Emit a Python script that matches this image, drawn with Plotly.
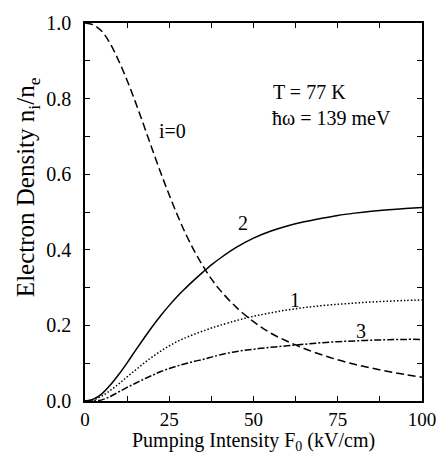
import plotly.graph_objects as go

# Pumping intensity F0 (kV/cm)
F0 = [0, 2.5, 5, 7.5, 10, 12.5, 15, 17.5, 20, 22.5, 25, 27.5, 30, 32.5, 35, 37.5, 40,
      45, 50, 55, 60, 65, 70, 75, 80, 85, 90, 95, 100]

# Electron densities n_i/n_e
n0 = [1.0, 0.995, 0.978, 0.945, 0.90, 0.848, 0.79, 0.728, 0.665, 0.603, 0.545, 0.49,
      0.44, 0.396, 0.357, 0.323, 0.294, 0.247, 0.21, 0.18, 0.158, 0.139, 0.123, 0.109,
      0.097, 0.087, 0.078, 0.07, 0.063]
n1 = [0.0, 0.003, 0.013, 0.028, 0.045, 0.064, 0.082, 0.10, 0.117, 0.132, 0.146, 0.158,
      0.168, 0.177, 0.185, 0.193, 0.20, 0.213, 0.224, 0.233, 0.241, 0.247, 0.252,
      0.256, 0.259, 0.262, 0.264, 0.266, 0.267]
n2 = [0.0, 0.005, 0.019, 0.042, 0.07, 0.101, 0.134, 0.166, 0.197, 0.226, 0.253, 0.278,
      0.30, 0.321, 0.341, 0.36, 0.377, 0.407, 0.431, 0.449, 0.463, 0.474, 0.483, 0.491,
      0.497, 0.502, 0.506, 0.509, 0.512]
n3 = [0.0, 0.0, 0.003, 0.012, 0.024, 0.036, 0.047, 0.058, 0.068, 0.078, 0.086, 0.093,
      0.099, 0.105, 0.11, 0.116, 0.122, 0.131, 0.137, 0.142, 0.146, 0.150, 0.154,
      0.157, 0.159, 0.161, 0.162, 0.163, 0.163]

x_tickvals = [0, 12.5, 25, 37.5, 50, 62.5, 75, 87.5, 100]
x_ticktext = ["0", "", "25", "", "50", "", "75", "", "100"]
y_tickvals = [0.0, 0.1, 0.2, 0.3, 0.4, 0.5, 0.6, 0.7, 0.8, 0.9, 1.0]
y_ticktext = ["0.0", "", "0.2", "", "0.4", "", "0.6", "", "0.8", "", "1.0"]

FONT = "Liberation Serif"
FS = 20

fig = go.Figure()
fig.add_trace(go.Scatter(x=F0, y=n0, mode="lines", line=dict(color="black", width=1.5, dash="8px,4px"), line_shape="spline"))
fig.add_trace(go.Scatter(x=F0, y=n1, mode="lines", line=dict(color="black", width=1.5, dash="1.5px,2px"), line_shape="spline"))
fig.add_trace(go.Scatter(x=F0, y=n2, mode="lines", line=dict(color="black", width=1.5), line_shape="spline"))
fig.add_trace(go.Scatter(x=F0, y=n3, mode="lines", line=dict(color="black", width=1.5, dash="7px,2px,2px,2px"), line_shape="spline"))

axis_common = dict(showgrid=False, zeroline=False, showline=True, linecolor="black", linewidth=1.5,
                   mirror="allticks", ticks="inside", ticklen=5, tickwidth=1, tickcolor="black")

fig.update_xaxes(range=[0, 100], tickmode="array", tickvals=x_tickvals, ticktext=x_ticktext,
                 ticklabelstandoff=0, tickfont=dict(family=FONT, size=19, color="black"), **axis_common)
fig.update_yaxes(range=[0, 1.0], tickmode="array", tickvals=y_tickvals, ticktext=y_ticktext,
                 ticklabelstandoff=8, tickfont=dict(family=FONT, size=FS, color="black"), **axis_common)

ann_font = dict(family=FONT, size=FS, color="black")
annotations = [
    dict(text="Pumping Intensity F<sub>0</sub> (kV/cm)", xref="paper", yref="paper", x=0.5, y=-0.108,
         showarrow=False, font=dict(family=FONT, size=20, color="black"), xanchor="center", yanchor="middle"),
    dict(text="Electron Density n<sub>i</sub>/n<sub>e</sub>", xref="paper", yref="paper", x=-0.17, y=0.565,
         showarrow=False, font=dict(family=FONT, size=25, color="black"), textangle=-90,
         xanchor="center", yanchor="middle"),
    dict(text="i=0", x=26.0, y=0.713, showarrow=False, font=ann_font),
    dict(text="2", x=47.0, y=0.471, showarrow=False, font=ann_font),
    dict(text="1", x=62.3, y=0.268, showarrow=False, font=ann_font),
    dict(text="3", x=81.9, y=0.185, showarrow=False, font=ann_font),
    dict(text="T = 77 K", x=55.3, y=0.818, showarrow=False, font=ann_font, xanchor="left"),
    dict(text="\u0127\u03c9 = 139 meV", x=55.0, y=0.75, showarrow=False, font=ann_font, xanchor="left"),
]

fig.update_layout(width=448, height=453, margin=dict(l=85, r=21, t=17, b=52),
                  paper_bgcolor="white", plot_bgcolor="white", showlegend=False,
                  annotations=annotations, font=dict(family=FONT, size=FS, color="black"))

fig.write_html("out.html")
